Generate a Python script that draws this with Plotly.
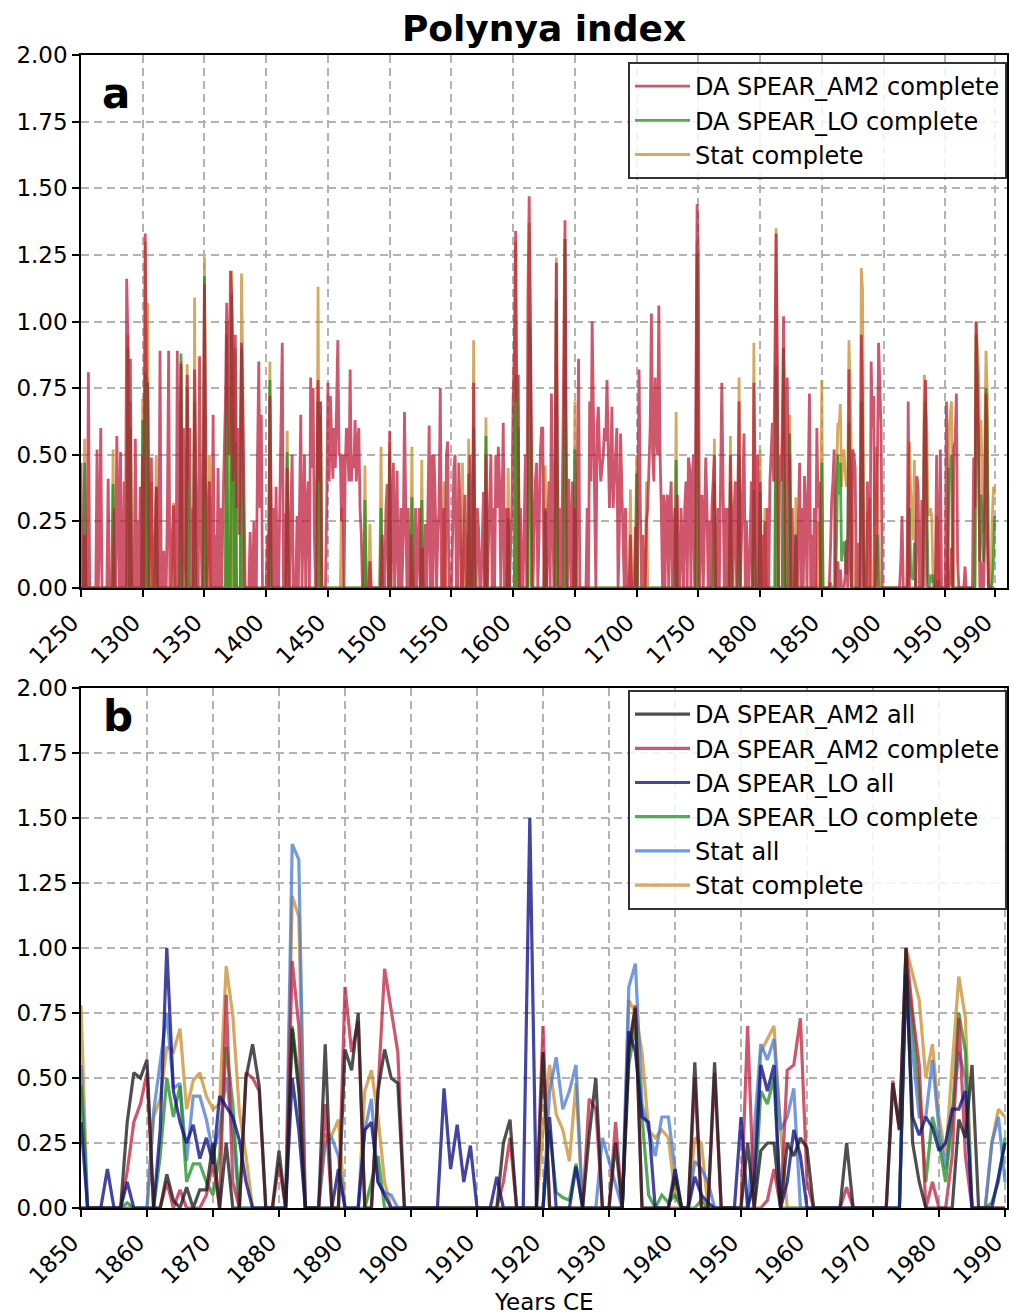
import plotly.graph_objects as go

# ---------------- data: panel b (1850-1990) ----------------
years_b = list(range(1850, 1991))

am2_all = [
    0, 0, 0, 0, 0, 0, 0, 0.33, 0.52, 0.50,
    0.57, 0, 0, 0.13, 0.03, 0, 0.08, 0, 0.07, 0.07,
    0.25, 0, 0.25, 0, 0, 0.50, 0.63, 0.47, 0, 0,
    0.22, 0, 0.69, 0.45, 0, 0, 0, 0.63, 0, 0,
    0.61, 0.53, 0.75, 0, 0, 0.45, 0.61, 0.50, 0.48, 0,
    0, 0, 0, 0, 0, 0, 0, 0, 0, 0,
    0, 0, 0, 0, 0.25, 0.34, 0, 0, 0, 0,
    0.60, 0, 0, 0, 0, 0, 0, 0.28, 0.50, 0,
    0, 0.25, 0, 0.60, 0.77, 0, 0, 0, 0, 0,
    0.12, 0, 0, 0.56, 0, 0, 0.56, 0, 0, 0,
    0, 0.25, 0, 0.22, 0.25, 0.25, 0, 0.25, 0.20, 0.27,
    0.23, 0, 0, 0, 0, 0, 0.25, 0, 0, 0,
    0, 0, 0, 0.48, 0.30, 1.00, 0.25, 0.10, 0, 0,
    0, 0, 0, 0.34, 0.27, 0.55, 0, 0, 0, 0,
    0]

am2_comp = [
    0, 0, 0, 0, 0, 0, 0, 0.14, 0.33, 0.40,
    0.52, 0, 0, 0.10, 0, 0.07, 0, 0, 0, 0.05,
    0.18, 0, 0.82, 0.10, 0, 0.52, 0.50, 0.45, 0, 0,
    0.17, 0, 0.95, 0.70, 0, 0, 0, 0.40, 0, 0,
    0.85, 0.60, 0.72, 0, 0, 0.45, 0.92, 0.76, 0.60, 0,
    0, 0, 0, 0, 0, 0, 0, 0, 0, 0,
    0, 0, 0, 0, 0.10, 0.27, 0, 0, 0, 0,
    0.70, 0, 0, 0, 0, 0, 0, 0.42, 0.38, 0,
    0, 0.33, 0, 0.62, 0.78, 0, 0, 0, 0, 0,
    0, 0, 0, 0.50, 0, 0, 0.52, 0, 0, 0,
    0, 0.70, 0, 0, 0.03, 0.15, 0, 0.53, 0.55, 0.73,
    0.10, 0, 0, 0, 0, 0, 0.08, 0, 0, 0,
    0, 0, 0, 0.49, 0.30, 1.00, 0.75, 0.55, 0, 0.10,
    0, 0, 0.20, 0.73, 0.20, 0, 0, 0, 0, 0,
    0]

lo_all = [
    0.33, 0, 0, 0, 0.15, 0, 0, 0.10, 0, 0,
    0, 0, 0.30, 1.00, 0.45, 0.33, 0.25, 0.32, 0.19, 0.27,
    0.17, 0.43, 0.39, 0.35, 0.26, 0.10, 0, 0, 0, 0,
    0, 0, 0.50, 0.30, 0, 0, 0, 0, 0, 0.15,
    0, 0, 0, 0.30, 0.33, 0.10, 0.05, 0, 0, 0,
    0, 0, 0, 0, 0, 0.46, 0.15, 0.32, 0.10, 0.24,
    0, 0, 0, 0.12, 0, 0, 0, 0, 1.50, 0,
    0, 0.35, 0, 0, 0, 0.16, 0, 0, 0, 0,
    0, 0, 0, 0.68, 0.60, 0.35, 0.33, 0, 0, 0,
    0.15, 0, 0, 0.12, 0.05, 0.02, 0, 0, 0, 0,
    0.35, 0, 0.10, 0.55, 0.45, 0.55, 0, 0.10, 0.30, 0.20,
    0, 0, 0, 0, 0, 0, 0, 0, 0, 0,
    0, 0, 0, 0, 0, 0.90, 0.35, 0.28, 0.35, 0.31,
    0.22, 0.25, 0.38, 0.38, 0.45, 0, 0, 0, 0, 0.12,
    0.25]

lo_comp = [
    0.47, 0, 0, 0, 0, 0, 0, 0.02, 0, 0,
    0, 0, 0.20, 0.50, 0.35, 0.47, 0.10, 0.17, 0.17, 0.10,
    0.05, 0.20, 0.62, 0.40, 0, 0, 0, 0, 0, 0,
    0, 0, 0.70, 0.50, 0, 0, 0, 0, 0, 0,
    0, 0, 0, 0, 0.10, 0.20, 0, 0, 0, 0,
    0, 0, 0, 0, 0, 0, 0, 0, 0, 0,
    0, 0, 0, 0, 0, 0, 0, 0, 0, 0,
    0, 0.30, 0.06, 0.04, 0.03, 0.17, 0, 0, 0, 0,
    0, 0, 0, 0.55, 0.70, 0.35, 0.05, 0, 0.05, 0.02,
    0.05, 0, 0, 0, 0.03, 0, 0, 0, 0, 0,
    0, 0, 0, 0.45, 0.40, 0.50, 0, 0, 0, 0,
    0, 0, 0, 0, 0, 0, 0, 0, 0, 0,
    0, 0, 0, 0, 0, 0.95, 0.72, 0.45, 0.10, 0.35,
    0.25, 0.10, 0.35, 0.75, 0.60, 0, 0, 0, 0.02, 0.10,
    0.27]

stat_all = [
    0.55, 0, 0, 0, 0, 0, 0, 0, 0, 0,
    0, 0.37, 0.55, 0.75, 0.46, 0.48, 0.18, 0.43, 0.43, 0.34,
    0.21, 0.30, 0.50, 0.30, 0, 0, 0, 0, 0, 0,
    0, 0, 1.40, 1.34, 0, 0, 0, 0.25, 0.27, 0.20,
    0, 0, 0, 0.30, 0.42, 0.10, 0.06, 0.05, 0, 0,
    0, 0, 0, 0, 0, 0, 0, 0, 0, 0,
    0, 0, 0, 0, 0, 0, 0, 0, 0, 0,
    0, 0.45, 0.58, 0.38, 0.45, 0.55, 0, 0, 0, 0.27,
    0.18, 0.10, 0, 0.85, 0.94, 0.40, 0.30, 0.20, 0.35, 0.35,
    0.15, 0, 0, 0.18, 0.15, 0.10, 0, 0, 0, 0,
    0, 0, 0.30, 0.63, 0.57, 0.65, 0.30, 0.35, 0.46, 0,
    0, 0, 0, 0, 0, 0, 0, 0, 0, 0,
    0, 0, 0, 0, 0, 0.95, 0.60, 0.35, 0.35, 0.57,
    0.30, 0.15, 0.35, 0.60, 0.50, 0, 0, 0, 0.25, 0.35,
    0.10]

stat_comp = [
    0.78, 0, 0, 0, 0, 0, 0, 0, 0, 0,
    0, 0.35, 0.42, 0.62, 0.60, 0.69, 0.38, 0.49, 0.52, 0.43,
    0.38, 0.40, 0.93, 0.74, 0.37, 0.20, 0, 0, 0, 0,
    0, 0, 1.20, 1.12, 0, 0, 0, 0.28, 0.28, 0.34,
    0, 0, 0, 0.45, 0.53, 0.35, 0.10, 0, 0, 0,
    0, 0, 0, 0, 0, 0, 0, 0, 0, 0,
    0, 0, 0, 0, 0, 0, 0, 0, 0, 0,
    0.30, 0.55, 0.36, 0.30, 0.18, 0.48, 0, 0, 0, 0,
    0, 0, 0, 0.80, 0.75, 0.60, 0.30, 0.27, 0.30, 0.27,
    0.05, 0, 0, 0.27, 0.25, 0, 0, 0, 0, 0,
    0, 0, 0.15, 0.60, 0.65, 0.70, 0.30, 0, 0, 0,
    0, 0, 0, 0, 0, 0, 0, 0, 0, 0,
    0, 0, 0, 0, 0, 1.00, 0.90, 0.80, 0.50, 0.63,
    0.35, 0.20, 0.55, 0.89, 0.73, 0, 0, 0, 0.25, 0.38,
    0.35]

# ---------------- data: panel a, early part (1250-1849) ----------------
years_early = list(range(1250, 1850))

am2_comp_early = [
    0.47, 0, 0, 0.20, 0, 0, 0.81, 0, 0, 0,                 # 1250s
    0, 0, 0, 0.52, 0, 0.20, 0.60, 0, 0, 0,                 # 1260s
    0, 0, 0.41, 0, 0, 0, 0, 0.30, 0, 0.57,                 # 1270s
    0.20, 0, 0.51, 0, 0, 0.40, 0, 1.16, 0.93, 0,           # 1280s
    0.86, 0, 0, 0, 0.56, 0, 0.25, 0, 0.38, 0,              # 1290s
    0.50, 0, 1.33, 0.80, 0.75, 0, 0.30, 0.49, 0, 0,        # 1300s
    0.20, 0.38, 0, 0, 0.89, 0, 0, 0.14, 0, 0,              # 1310s
    0.30, 0.89, 0, 0, 0.20, 0.31, 0, 0, 0.89, 0,           # 1320s
    0.50, 0.84, 0, 0.60, 0.18, 0, 0.80, 0.40, 0.60, 0,     # 1330s
    0.30, 0, 0.82, 0.50, 0, 0, 0.87, 0.30, 0, 0.35,        # 1340s
    1.14, 0.60, 0, 0.20, 0.40, 0, 0, 0.65, 0, 0.20,        # 1350s
    0, 0.45, 0, 0.30, 0, 0.30, 0.50, 0.70, 1.07, 0.90,     # 1360s
    0.50, 1.19, 1.10, 0.40, 0.60, 0.95, 0.30, 0.60, 0.20, 0.50,  # 1370s
    0.92, 0.70, 0.30, 0, 0, 0, 0, 0.21, 0, 0,              # 1380s
    0.25, 0, 0, 0.50, 0.85, 0.30, 0.65, 0, 0, 0,           # 1390s
    0, 0.20, 0, 0.72, 0.30, 0, 0.30, 0, 0.38, 0,           # 1400s
    0, 0.30, 0.60, 0.92, 0, 0.28, 0, 0.45, 0.20, 0,        # 1410s
    0.30, 0.50, 0, 0, 0, 0.27, 0, 0.30, 0.65, 0,           # 1420s
    0.20, 0.50, 0, 0.30, 0.40, 0, 0.79, 0.45, 0.75, 0.20,  # 1430s
    0, 0.30, 0.78, 0.40, 0.70, 0, 0, 0, 0, 0.30,           # 1440s
    0.77, 0.40, 0.72, 0.55, 0.41, 0.60, 0.45, 0.68, 0.93, 0.50,  # 1450s
    0.50, 0.25, 0.50, 0, 0.45, 0.60, 0.55, 0.40, 0.82, 0.40,     # 1460s
    0.50, 0.45, 0.63, 0.40, 0.55, 0.60, 0.30, 0.20, 0, 0,        # 1470s
    0, 0, 0, 0, 0.10, 0, 0, 0, 0, 0,                       # 1480s
    0, 0, 0, 0, 0.20, 0, 0, 0.30, 0.39, 0,                 # 1490s
    0.59, 0, 0.20, 0.47, 0, 0.30, 0.44, 0, 0, 0.30,        # 1500s
    0, 0.20, 0.66, 0.30, 0, 0.30, 0, 0.20, 0, 0,           # 1510s
    0, 0.30, 0, 0.12, 0.30, 0, 0, 0.15, 0, 0.24,           # 1520s
    0, 0.30, 0.61, 0, 0.50, 0, 0.50, 0.30, 0, 0.20,        # 1530s
    0.30, 0.75, 0, 0, 0.30, 0, 0.50, 0.55, 0, 0,           # 1540s
    0, 0.20, 0.45, 0.50, 0, 0, 0.47, 0.30, 0, 0,           # 1550s
    0.20, 0.35, 0, 0.20, 0, 0.50, 0, 0, 0.77, 0.20,        # 1560s
    0, 0.30, 0.22, 0, 0, 0.20, 0.36, 0, 0.50, 0,           # 1570s
    0.20, 0.30, 0.50, 0, 0.30, 0, 0.50, 0.30, 0.53, 0.40,  # 1580s
    0, 0.30, 0.62, 0, 0.30, 0, 0.30, 0, 0.20, 0.30,        # 1590s
    0.71, 0.90, 1.34, 0.70, 0.80, 0, 0.30, 0, 0, 0.30,     # 1600s
    0.50, 0, 1.10, 1.47, 0.96, 0.50, 0, 0.20, 0.40, 0.47,  # 1610s
    0, 0.20, 0.50, 0.60, 0.60, 0, 0.30, 0, 0.20, 0.40,     # 1620s
    0, 0.73, 0.30, 0, 0.50, 1.22, 0.40, 0, 0.30, 0,        # 1630s
    0.40, 0.80, 1.38, 0.60, 0, 0.41, 0.20, 0, 0.40, 0,     # 1640s
    0.30, 0, 0.40, 0.86, 0, 0, 0, 0, 0, 0,                 # 1650s
    0.30, 0, 0.70, 0.40, 1.00, 0.60, 0.37, 0, 0.60, 0.68,  # 1660s
    0.50, 0.40, 0.45, 0.50, 0.60, 0.55, 0.78, 0.50, 0.30, 0.45,  # 1670s
    0.68, 0.30, 0.40, 0.50, 0.60, 0, 0.20, 0.58, 0.40, 0.20,     # 1680s
    0, 0.30, 0, 0, 0, 0.20, 0, 0, 0, 0.23,                 # 1690s
    0, 0.30, 0.82, 0.30, 0, 0.20, 0, 0, 0.25, 0.30,        # 1700s
    0.50, 0.60, 1.03, 0.50, 0.40, 0.79, 0.60, 0.50, 1.06, 0.50,  # 1710s
    0.30, 0, 0.35, 0, 0.30, 0.35, 0, 0.30, 0.40, 0,        # 1720s
    0.20, 0.30, 0, 0.35, 0, 0, 0.30, 0.13, 0, 0.30,        # 1730s
    0.40, 0, 0.49, 0.45, 0, 0.40, 0.50, 0, 0.60, 1.44,     # 1740s
    1.25, 0, 0.20, 0.35, 0, 0.30, 0.49, 0.30, 0, 0.25,     # 1750s
    0, 0.30, 0.40, 0.50, 0, 0, 0.30, 0, 0.40, 0.77,        # 1760s
    0.40, 0, 0.30, 0, 0.30, 0, 0.50, 0.30, 0, 0.30,        # 1770s
    0.40, 0, 0.50, 0.70, 0, 0.20, 0.40, 0.58, 0, 0.25,     # 1780s
    0, 0, 0.20, 0.40, 0, 0.77, 0.40, 0, 0.50, 0,           # 1790s
    0.40, 0, 0.20, 0, 0.25, 0, 0.30, 0, 0.40, 0.50,        # 1800s
    0.62, 0.40, 1.00, 1.33, 0.83, 0, 0.50, 0.40, 0.60, 1.02,     # 1810s
    0.60, 0, 0.79, 0.40, 0.50, 0, 0.30, 0, 0, 0.20,        # 1820s
    0, 0.30, 0.47, 0, 0.30, 0, 0.42, 0.30, 0, 0.40,        # 1830s
    0.73, 0, 0.20, 0, 0.30, 0, 0.60, 0.30, 0.40, 0,        # 1840s
]

# Stat complete (early part): years with non-zero values, and those values
stat_early_years = [1253, 1276, 1288, 1290, 1300, 1302, 1304, 1307, 1311, 1325, 1331,
                    1336, 1342, 1350, 1354, 1368, 1372, 1375, 1380, 1381, 1403, 1417,
                    1442, 1444, 1461, 1480, 1484, 1493, 1500, 1518, 1526, 1544, 1559,
                    1564, 1568, 1578, 1596, 1602, 1604, 1613, 1614, 1626, 1635, 1642,
                    1650, 1695, 1700, 1708, 1732, 1749, 1763, 1776, 1783, 1795, 1800,
                    1804, 1813, 1814, 1819, 1824, 1829, 1847]
stat_early_vals = [0.56, 0.52, 0.95, 0.70, 0.71, 1.30, 1.07, 0.40, 0.50, 0.32, 0.85,
                   0.84, 1.09, 1.24, 0.50, 1.00, 1.19, 0.90, 1.18, 0.80, 0.85, 0.59,
                   1.13, 0.70, 0.30, 0.46, 0.24, 0.53, 0.55, 0.53, 0.48, 0.40, 0.47,
                   0.56, 0.93, 0.64, 0.45, 1.30, 0.80, 1.37, 0.96, 0.46, 1.24, 1.31,
                   0.70, 0.37, 0.50, 0.40, 0.66, 1.30, 0.56, 0.57, 0.79, 0.92, 0.52,
                   0.30, 1.35, 0.80, 0.90, 0.65, 0.34, 0.25]

# DA SPEAR_LO complete (early part)
lo_early_years = [1253, 1276, 1288, 1290, 1300, 1302, 1304, 1311, 1331, 1336, 1342,
                  1350, 1368, 1372, 1373, 1375, 1380, 1403, 1417, 1442, 1444, 1480,
                  1493, 1500, 1518, 1526, 1564, 1568, 1578, 1596, 1602, 1604, 1613,
                  1614, 1626, 1635, 1642, 1650, 1700, 1732, 1749, 1763, 1776, 1783,
                  1795, 1800, 1813, 1819, 1824, 1829]
lo_early_vals = [0.47, 0.39, 0.90, 0.60, 0.63, 0.81, 0.77, 0.38, 0.88, 0.75, 0.70,
                 1.17, 0.95, 1.10, 0.88, 0.55, 0.90, 0.78, 0.51, 0.70, 0.65, 0.33,
                 0.30, 0.51, 0.34, 0.33, 0.43, 0.60, 0.57, 0.26, 0.80, 0.60, 1.00,
                 0.90, 0.29, 1.08, 1.31, 0.52, 0.43, 0.48, 1.25, 0.40, 0.40, 0.50,
                 0.37, 0.36, 0.83, 0.90, 0.58, 0.20]

top_ticks = [1250, 1300, 1350, 1400, 1450, 1500, 1550, 1600, 1650, 1700, 1750,
             1800, 1850, 1900, 1950, 1990]
bottom_ticks = list(range(1850, 1991, 10))
y_ticks = [0, 0.25, 0.5, 0.75, 1.0, 1.25, 1.5, 1.75, 2.0]

# ---------------- assemble panel a series ----------------
def sparse_to_full(years, ys, vals):
    lookup = dict(zip(ys, vals))
    return [lookup.get(y, 0) for y in years]

years_a = years_early + years_b
red_a = am2_comp_early + am2_comp
green_a = sparse_to_full(years_early, lo_early_years, lo_early_vals) + lo_comp
gold_a = sparse_to_full(years_early, stat_early_years, stat_early_vals) + stat_comp

# ---------------- styling ----------------
C_RED = "rgba(190,30,60,0.75)"
C_GREEN = "rgba(30,140,30,0.75)"
C_GOLD = "rgba(200,140,40,0.75)"
C_BLACK = "rgba(30,30,30,0.78)"
C_NAVY = "rgba(15,15,135,0.78)"
C_LBLUE = "rgba(70,120,210,0.75)"

FONT = "DejaVu Sans"
W, H = 1013, 1315
ML, MR, MT, MB = 81, 6, 55, 107
PH = H - MT - MB
top_dom = [1 - (588 - 55) / PH, 1.0]
bot_dom = [0.0, (1208 - 688) / PH]

fig = go.Figure()

LW_A = 2.8
fig.add_trace(go.Scatter(x=years_a, y=gold_a, mode="lines", name="Stat complete",
                         line=dict(color=C_GOLD, width=LW_A), legend="legend",
                         legendrank=3, xaxis="x", yaxis="y"))
fig.add_trace(go.Scatter(x=years_a, y=green_a, mode="lines", name="DA SPEAR_LO complete",
                         line=dict(color=C_GREEN, width=LW_A), legend="legend",
                         legendrank=2, xaxis="x", yaxis="y"))
fig.add_trace(go.Scatter(x=years_a, y=red_a, mode="lines", name="DA SPEAR_AM2 complete",
                         line=dict(color=C_RED, width=LW_A), legend="legend",
                         legendrank=1, xaxis="x", yaxis="y"))

LW_B = 3.2
for name, ys, col, rank in [
    ("Stat complete", stat_comp, C_GOLD, 6),
    ("Stat all", stat_all, C_LBLUE, 5),
    ("DA SPEAR_LO complete", lo_comp, C_GREEN, 4),
    ("DA SPEAR_AM2 complete", am2_comp, C_RED, 2),
    ("DA SPEAR_LO all", lo_all, C_NAVY, 3),
    ("DA SPEAR_AM2 all", am2_all, C_BLACK, 1),
]:
    fig.add_trace(go.Scatter(x=years_b, y=ys, mode="lines", name=name,
                             line=dict(color=col, width=LW_B), legend="legend2",
                             legendrank=rank, xaxis="x2", yaxis="y2"))

axis_common = dict(showgrid=True, gridcolor="#b3b3b3", gridwidth=1.5, griddash="8px,5px",
                   showline=True, mirror=True, linecolor="black", linewidth=1.6,
                   ticks="outside", ticklen=7, tickwidth=1.5, tickcolor="black",
                   tickfont=dict(size=23, color="black", family=FONT), zeroline=False,
                   automargin=False)

xlabel_shift = dict(tickangle=-45, ticklabeloverflow="allow", ticklabelshift=-9,
                    ticklabelstandoff=3)

legend_common = dict(x=1, xanchor="right", yanchor="top",
                     bgcolor="rgba(255,255,255,0.85)", bordercolor="#333333", borderwidth=2,
                     font=dict(size=24, family=FONT, color="black"), itemwidth=55,
                     tracegroupgap=0)

fig.update_layout(
    width=W, height=H, autosize=False,
    margin=dict(l=ML, r=MR, t=MT, b=MB, autoexpand=False),
    paper_bgcolor="white", plot_bgcolor="white",
    font=dict(family=FONT, color="black"),
    title=dict(text="<b>Polynya index</b>", font=dict(size=36, family=FONT, color="black"),
               x=0.5, xref="paper", xanchor="center", y=1 - 28 / H, yref="container",
               yanchor="middle"),
    xaxis=dict(domain=[0, 1], anchor="y", range=[1250, 2000], tickvals=top_ticks,
               **xlabel_shift, **axis_common),
    yaxis=dict(domain=top_dom, anchor="x", range=[0, 2], tickvals=y_ticks,
               tickformat=".2f", **axis_common),
    xaxis2=dict(domain=[0, 1], anchor="y2", range=[1850, 1990.3], tickvals=bottom_ticks,
                **xlabel_shift, **axis_common),
    yaxis2=dict(domain=bot_dom, anchor="x2", range=[0, 2], tickvals=y_ticks,
                tickformat=".2f", **axis_common),
    legend=dict(y=1 - 7 / PH, **legend_common),
    legend2=dict(y=bot_dom[1] - 2 / PH, **legend_common),
    annotations=[
        dict(text="<b>a</b>", xref="x domain", yref="y domain", x=0.02, y=(588 - 93) / 533,
             xanchor="left", yanchor="middle", showarrow=False,
             font=dict(size=42, family=FONT, color="black")),
        dict(text="<b>b</b>", xref="x2 domain", yref="y2 domain", x=0.022, y=(1208 - 716) / 520,
             xanchor="left", yanchor="middle", showarrow=False,
             font=dict(size=42, family=FONT, color="black")),
        dict(text="Years CE", xref="paper", yref="paper", x=0.5, y=-(1302 - 1208) / PH,
             xanchor="center", yanchor="middle", showarrow=False,
             font=dict(size=23, family=FONT, color="black")),
    ],
)

fig.write_html("out.html", config={"displayModeBar": False},
               post_script="document.body.style.margin='0px';document.body.style.overflow='hidden';")
